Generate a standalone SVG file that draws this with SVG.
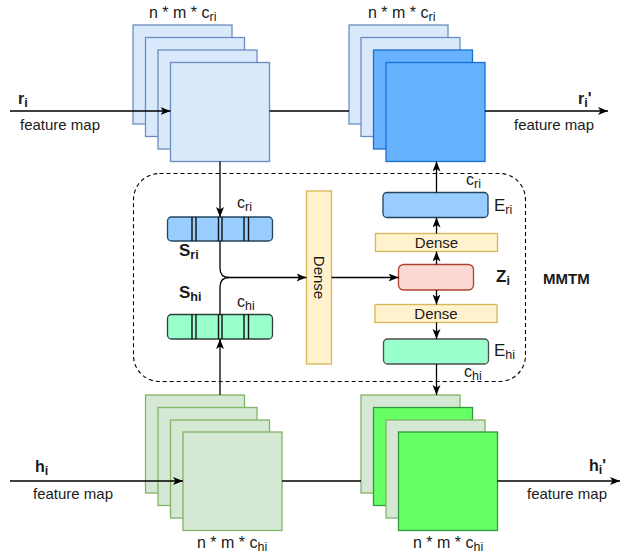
<svg xmlns="http://www.w3.org/2000/svg" width="629" height="557" viewBox="0 0 629 557">
<style>
text{font-family:"Liberation Sans",Arial,sans-serif;font-size:15px;fill:#1a1a1a}
.b{font-weight:bold}
.L{font-size:17px}
.M{font-size:16px}
.s{font-size:12.5px}
.lb{fill:#dae8fc;stroke:#6c8ebf;stroke-width:1.3}
.db{fill:#66b2ff;stroke:#1a6fd1;stroke-width:1.3}
.lg{fill:#d5e8d4;stroke:#82b366;stroke-width:1.3}
.dg{fill:#66ff66;stroke:#2e9a40;stroke-width:1.3}
.bar{stroke-width:1.3}
.il{stroke:#111;stroke-width:1.4}
.dense{fill:#fff2cc;stroke:#d6b656;stroke-width:1.3}
.c{fill:none;stroke:#000;stroke-width:1.3}
</style>
<defs>
<marker id="a" markerUnits="userSpaceOnUse" markerWidth="11" markerHeight="9" refX="10" refY="4" orient="auto" viewBox="0 0 11 9">
<path d="M0,0 L10,4 L0,8 L2.5,4 z" fill="#000"/>
</marker>
</defs>

<g id="container">
<rect x="133.5" y="173.5" width="392" height="208" rx="26" fill="none" stroke="#000" stroke-width="1.1" stroke-dasharray="4 3"/>
<text x="543" y="284" class="b">MMTM</text>
</g>

<g id="r-input-stack">
<rect class="lb" x="133" y="25" width="99" height="99"/>
<rect class="lb" x="145.5" y="37.5" width="99" height="99"/>
<rect class="lb" x="158" y="50" width="99" height="99"/>
<rect class="lb" x="170.5" y="62.5" width="99" height="99"/>
<text x="149" y="18" class="M">n * m * c<tspan dy="3" class="s">ri</tspan></text>
</g>

<g id="r-output-stack">
<rect class="lb" x="349" y="25" width="99" height="99"/>
<rect class="lb" x="361" y="37.5" width="99" height="99"/>
<rect class="db" x="373.5" y="50" width="99" height="99"/>
<rect class="db" x="386" y="62.5" width="99" height="99"/>
<text x="368" y="18" class="M">n * m * c<tspan dy="3" class="s">ri</tspan></text>
</g>

<g id="h-input-stack">
<rect class="lg" x="145.5" y="395" width="99" height="98"/>
<rect class="lg" x="158" y="407.5" width="99" height="98"/>
<rect class="lg" x="170.5" y="420" width="99" height="98"/>
<rect class="lg" x="183" y="432" width="99" height="98.5"/>
<text x="197" y="548" class="M">n * m * c<tspan dy="3" class="s">hi</tspan></text>
</g>

<g id="h-output-stack">
<rect class="lg" x="361" y="395" width="99" height="98"/>
<rect class="dg" x="373.5" y="407.5" width="99" height="98"/>
<rect class="lg" x="386" y="420" width="99" height="98"/>
<rect class="dg" x="398.5" y="432" width="99" height="98.5"/>
<text x="413" y="548" class="M">n * m * c<tspan dy="3" class="s">hi</tspan></text>
</g>

<g id="S-r">
<rect class="bar" x="167.5" y="217" width="105" height="24" rx="4" fill="#99ccff" stroke="#23445d"/>
<line class="il" x1="192" y1="217" x2="192" y2="241"/><line class="il" x1="196" y1="217" x2="196" y2="241"/>
<line class="il" x1="218.5" y1="217" x2="218.5" y2="241"/><line class="il" x1="222" y1="217" x2="222" y2="241"/>
<line class="il" x1="244" y1="217" x2="244" y2="241"/><line class="il" x1="248.5" y1="217" x2="248.5" y2="241"/>
<text x="179" y="256" class="b L">S<tspan dy="3" class="s">ri</tspan></text>
<text x="237" y="208" class="M">c<tspan dy="3" class="s">ri</tspan></text>
</g>

<g id="S-h">
<rect class="bar" x="167.5" y="314.5" width="105" height="24.5" rx="4" fill="#99ffcc" stroke="#2f3f3a"/>
<line class="il" x1="192" y1="314.5" x2="192" y2="339"/><line class="il" x1="196" y1="314.5" x2="196" y2="339"/>
<line class="il" x1="218.5" y1="314.5" x2="218.5" y2="339"/><line class="il" x1="222" y1="314.5" x2="222" y2="339"/>
<line class="il" x1="244" y1="314.5" x2="244" y2="339"/><line class="il" x1="248.5" y1="314.5" x2="248.5" y2="339"/>
<text x="179" y="298" class="b L">S<tspan dy="3" class="s">hi</tspan></text>
<text x="237" y="307" class="M">c<tspan dy="3" class="s">hi</tspan></text>
</g>

<g id="dense-concat">
<rect class="dense" x="306.5" y="191" width="25" height="173"/>
<text x="0" y="0" text-anchor="middle" dominant-baseline="central" transform="translate(319,277.5) rotate(90)">Dense</text>
</g>

<g id="Z">
<rect x="398.5" y="264.5" width="75" height="25.5" rx="5" fill="#fad9d5" stroke="#ae4132" stroke-width="1.3"/>
<text x="496" y="282" class="b L">Z<tspan dy="3" class="s">i</tspan></text>
</g>

<g id="dense-r">
<rect class="dense" x="375.5" y="233.5" width="122" height="18"/>
<text x="436.5" y="242.5" text-anchor="middle" dominant-baseline="central">Dense</text>
</g>

<g id="dense-h">
<rect class="dense" x="375" y="304.5" width="122" height="18"/>
<text x="436" y="313.5" text-anchor="middle" dominant-baseline="central">Dense</text>
</g>

<g id="E-r">
<rect class="bar" x="383" y="192.5" width="105" height="25" rx="4" fill="#99ccff" stroke="#23445d"/>
<text x="494" y="211" class="L">E<tspan dy="3" class="s">ri</tspan></text>
<text x="466" y="185" class="M">c<tspan dy="3" class="s">ri</tspan></text>
</g>

<g id="E-h">
<rect class="bar" x="383.5" y="339" width="105" height="25" rx="4" fill="#99ffcc" stroke="#4d4d4d"/>
<text x="494" y="356" class="L">E<tspan dy="3" class="s">hi</tspan></text>
<text x="464" y="377" class="M">c<tspan dy="3" class="s">hi</tspan></text>
</g>

<g id="labels">
<text x="18" y="104" class="b M">r<tspan dy="3" class="s">i</tspan></text>
<text x="20" y="130">feature map</text>
<text x="578" y="104" class="b M">r<tspan dy="3" class="s">i</tspan><tspan dy="-3">'</tspan></text>
<text x="514" y="130">feature map</text>
<text x="35" y="472" class="b M">h<tspan dy="3" class="s">i</tspan></text>
<text x="33" y="499">feature map</text>
<text x="589" y="471" class="b M">h<tspan dy="3" class="s">i</tspan><tspan dy="-3">'</tspan></text>
<text x="527" y="499">feature map</text>
</g>

<g id="connectors">
<line class="c" x1="10" y1="111" x2="170.5" y2="111" marker-end="url(#a)"/>
<line class="c" x1="269.5" y1="111" x2="349" y2="111"/>
<line class="c" x1="485" y1="111" x2="608" y2="111" marker-end="url(#a)"/>
<line class="c" x1="220" y1="161.5" x2="220" y2="217" marker-end="url(#a)"/>
<path class="c" d="M220,241 L220,268 Q220,277.5 229,277.5 L306.5,277.5" marker-end="url(#a)"/>
<line class="c" x1="220" y1="395" x2="220" y2="339" marker-end="url(#a)"/>
<path class="c" d="M220,314.5 L220,287 Q220,277.5 229,277.5"/>
<line class="c" x1="331.5" y1="277.5" x2="398.5" y2="277.5" marker-end="url(#a)"/>
<line class="c" x1="436.5" y1="264.5" x2="436.5" y2="251.5" marker-end="url(#a)"/>
<line class="c" x1="436.5" y1="233.5" x2="436.5" y2="217.5" marker-end="url(#a)"/>
<line class="c" x1="436.5" y1="192.5" x2="436.5" y2="161.5" marker-end="url(#a)"/>
<line class="c" x1="436.5" y1="290" x2="436.5" y2="304.5" marker-end="url(#a)"/>
<line class="c" x1="436.5" y1="322.5" x2="436.5" y2="339" marker-end="url(#a)"/>
<line class="c" x1="436.5" y1="364" x2="436.5" y2="395" marker-end="url(#a)"/>
<line class="c" x1="10" y1="481" x2="183" y2="481" marker-end="url(#a)"/>
<line class="c" x1="282" y1="481" x2="361" y2="481"/>
<line class="c" x1="497.5" y1="481" x2="620" y2="481" marker-end="url(#a)"/>
</g>
</svg>
